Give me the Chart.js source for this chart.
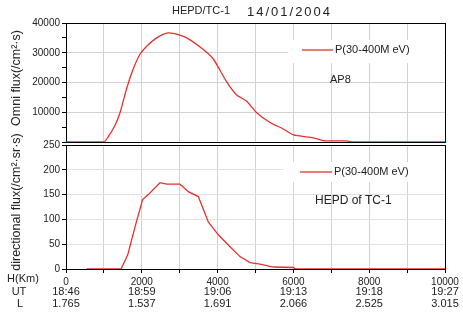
<!DOCTYPE html>
<html lang="en">
<head>
<meta charset="UTF-8">
<title>HEPD/TC-1 14/01/2004</title>
<script src="https://cdn.jsdelivr.net/npm/chart.js"></script>
<style>
  body { margin: 0; background: #fff; }
  #wrap { position: relative; width: 463px; height: 316px; overflow: hidden; background: #fff; }
  .box { position: absolute; left: 0; width: 463px; }
</style>
</head>
<body>
<div id="wrap">
  <div class="box" style="top:0;height:150px"><canvas id="omniChart"></canvas></div>
  <div class="box" style="top:120px;height:196px"><canvas id="dirChart"></canvas></div>
</div>
<script>
// AP8 omni flux (top panel)
const omniH = [0, 1000, 1100, 1290, 1425, 1600, 1776, 1952, 2128, 2392, 2656, 2832, 3184, 3623, 3887, 4240, 4504, 4768, 5031, 5383, 5734, 5998, 6525, 6834, 7400, 7550, 10000];
const omniFlux = [0, 0, 1500, 5570, 9840, 18000, 24600, 29500, 32200, 35000, 36600, 36500, 35000, 31100, 27900, 20200, 15800, 13700, 9840, 6560, 4370, 2400, 1420, 400, 400, 0, 0];

// HEPD directional flux (bottom panel)
const dirH = [545, 1451, 1627, 1821, 2022, 2172, 2480, 2656, 3008, 3227, 3491, 3755, 4019, 4327, 4591, 4855, 5119, 5470, 6000, 6050, 10000];
const dirFlux = [0, 0, 28, 85, 140, 150, 174, 171, 171, 156, 146, 95, 69, 45, 25, 13, 10, 4, 3, 0, 0];

// bottom axis rows
const hTicks = [0, 2000, 4000, 6000, 8000, 10000];
const utLabels = ['18:46', '18:59', '19:06', '19:13', '19:18', '19:27'];
const lLabels = ['1.765', '1.537', '1.691', '2.066', '2.525', '3.015'];

const seriesLabel = 'P(30-400M eV)';
const FONT = 'Liberation Sans, Arial, sans-serif';
const RED = '#e8302c';
const GRID = '#d2d2d2';
const TXT = '#222';

function pts(xs, ys) {
  return xs.map((x, i) => ({ x: x, y: ys[i] }));
}

// legend box + note text drawn inside the plot, plus rotated y title
const insetLegend = {
  id: 'insetLegend',
  afterDraw(chart, args, o) {
    const ctx = chart.ctx;
    ctx.save();
    ctx.fillStyle = '#fff';
    ctx.fillRect(o.boxX, o.boxY, o.boxW, o.boxH);
    ctx.strokeStyle = RED;
    ctx.lineWidth = 1.3;
    ctx.beginPath();
    ctx.moveTo(o.lineX0, o.y);
    ctx.lineTo(o.lineX1, o.y);
    ctx.stroke();
    ctx.fillStyle = TXT;
    ctx.font = '11px ' + FONT;
    ctx.textBaseline = 'middle';
    ctx.textAlign = 'left';
    ctx.fillText(seriesLabel, o.lineX1 + 2, o.y);
    ctx.font = o.noteSize + 'px ' + FONT;
    ctx.fillText(o.note, o.noteX, o.noteY);
    // y axis title
    ctx.translate(o.titleX, o.titleY);
    ctx.rotate(-Math.PI / 2);
    ctx.textAlign = 'center';
    ctx.font = '12.5px ' + FONT;
    ctx.fillText(o.title, 0, 0);
    ctx.restore();
  }
};

const topTitle = {
  id: 'topTitle',
  afterDraw(chart) {
    const ctx = chart.ctx;
    ctx.save();
    ctx.fillStyle = TXT;
    ctx.textBaseline = 'middle';
    ctx.textAlign = 'left';
    ctx.font = '11px ' + FONT;
    ctx.fillText('HEPD/TC-1', 172, 11);
    ctx.font = '13px ' + FONT;
    ctx.letterSpacing = '2px';
    ctx.fillText('14/01/2004', 247, 12);
    ctx.restore();
  }
};

const axisRows = {
  id: 'axisRows',
  afterDraw(chart) {
    const ctx = chart.ctx;
    const xs = chart.scales.x;
    const b = chart.chartArea.bottom;
    ctx.save();
    ctx.fillStyle = TXT;
    ctx.textBaseline = 'middle';
    ctx.textAlign = 'center';
    ctx.font = '11px ' + FONT;
    hTicks.forEach((v, i) => {
      const px = xs.getPixelForValue(v);
      ctx.fillText(utLabels[i], px, b + 23);
      ctx.fillText(lLabels[i], px, b + 35);
    });
    ctx.fillText('H(Km)', 23, b + 10);
    ctx.fillText('UT', 19, b + 23);
    ctx.fillText('L', 20, b + 35);
    ctx.restore();
  }
};

Chart.defaults.font.family = FONT;
Chart.defaults.color = TXT;

new Chart(document.getElementById('omniChart'), {
  type: 'line',
  data: {
    datasets: [{
      label: seriesLabel,
      data: pts(omniH, omniFlux),
      borderColor: RED,
      borderWidth: 1.3,
      pointRadius: 0,
      tension: 0.2
    }]
  },
  options: {
    responsive: true,
    maintainAspectRatio: false,
    animation: false,
    layout: { padding: { top: 23, right: 18, left: 0, bottom: 0 } },
    plugins: {
      legend: { display: false },
      tooltip: { enabled: false },
      insetLegend: {
        boxX: 288, boxY: 40, boxW: 156, boxH: 23, lineX0: 302, lineX1: 333, y: 50,
        note: 'AP8', noteX: 330, noteY: 80, noteSize: 11,
        title: 'Omni flux(/cm²·s)', titleX: 17, titleY: 78
      }
    },
    scales: {
      x: {
        type: 'linear', min: 0, max: 10000,
        ticks: { display: false, stepSize: 1000 },
        grid: { drawTicks: false, color: c => (c.tick.value === 10000 ? '#000' : GRID) },
        border: { color: '#000' },
        afterFit: s => { s.height = 5; }
      },
      y: {
        min: 0, max: 40000,
        ticks: {
          stepSize: 5000, padding: 2, font: { size: 10 },
          callback: v => (v % 10000 === 0 && v > 0 ? String(v) : '')
        },
        grid: {
          tickLength: 4, tickColor: '#000',
          color: c => (c.tick.value === 40000 ? '#000' : (c.tick.value % 10000 === 0 && c.tick.value > 0 ? GRID : 'rgba(0,0,0,0)'))
        },
        border: { color: '#000' },
        afterFit: s => { s.width = 66; }
      }
    }
  },
  plugins: [insetLegend, topTitle]
});

new Chart(document.getElementById('dirChart'), {
  type: 'line',
  data: {
    datasets: [{
      label: seriesLabel,
      data: pts(dirH, dirFlux),
      borderColor: RED,
      borderWidth: 1.3,
      pointRadius: 0,
      tension: 0
    }]
  },
  options: {
    responsive: true,
    maintainAspectRatio: false,
    animation: false,
    layout: { padding: { top: 25, right: 18, left: 0, bottom: 0 } },
    plugins: {
      legend: { display: false },
      tooltip: { enabled: false },
      insetLegend: {
        boxX: 283, boxY: 42, boxW: 161, boxH: 20, lineX0: 300, lineX1: 332, y: 52,
        note: 'HEPD of TC-1', noteX: 315, noteY: 81, noteSize: 12,
        title: 'directional flux(/cm²·sr·s)', titleX: 17, titleY: 82
      }
    },
    scales: {
      x: {
        type: 'linear', min: 0, max: 10000,
        ticks: {
          stepSize: 1000, padding: 3, maxRotation: 0, autoSkip: false, font: { size: 10 },
          callback: v => (v % 2000 === 0 ? String(v) : '')
        },
        grid: { tickLength: 4, tickColor: '#000', color: c => (c.tick.value === 10000 ? '#000' : GRID) },
        border: { color: '#000' },
        afterFit: s => { s.height = 47; }
      },
      y: {
        min: 0, max: 250,
        ticks: {
          stepSize: 25, padding: 2, font: { size: 10 },
          callback: v => (v % 50 === 0 ? String(v) : '')
        },
        grid: {
          tickLength: 4, tickColor: '#000',
          color: c => (c.tick.value === 250 ? '#000' : (c.tick.value % 50 === 0 && c.tick.value > 0 ? '#e2e2e2' : 'rgba(0,0,0,0)'))
        },
        border: { color: '#000' },
        afterFit: s => { s.width = 66; }
      }
    }
  },
  plugins: [insetLegend, axisRows]
});
</script>
</body>
</html>
